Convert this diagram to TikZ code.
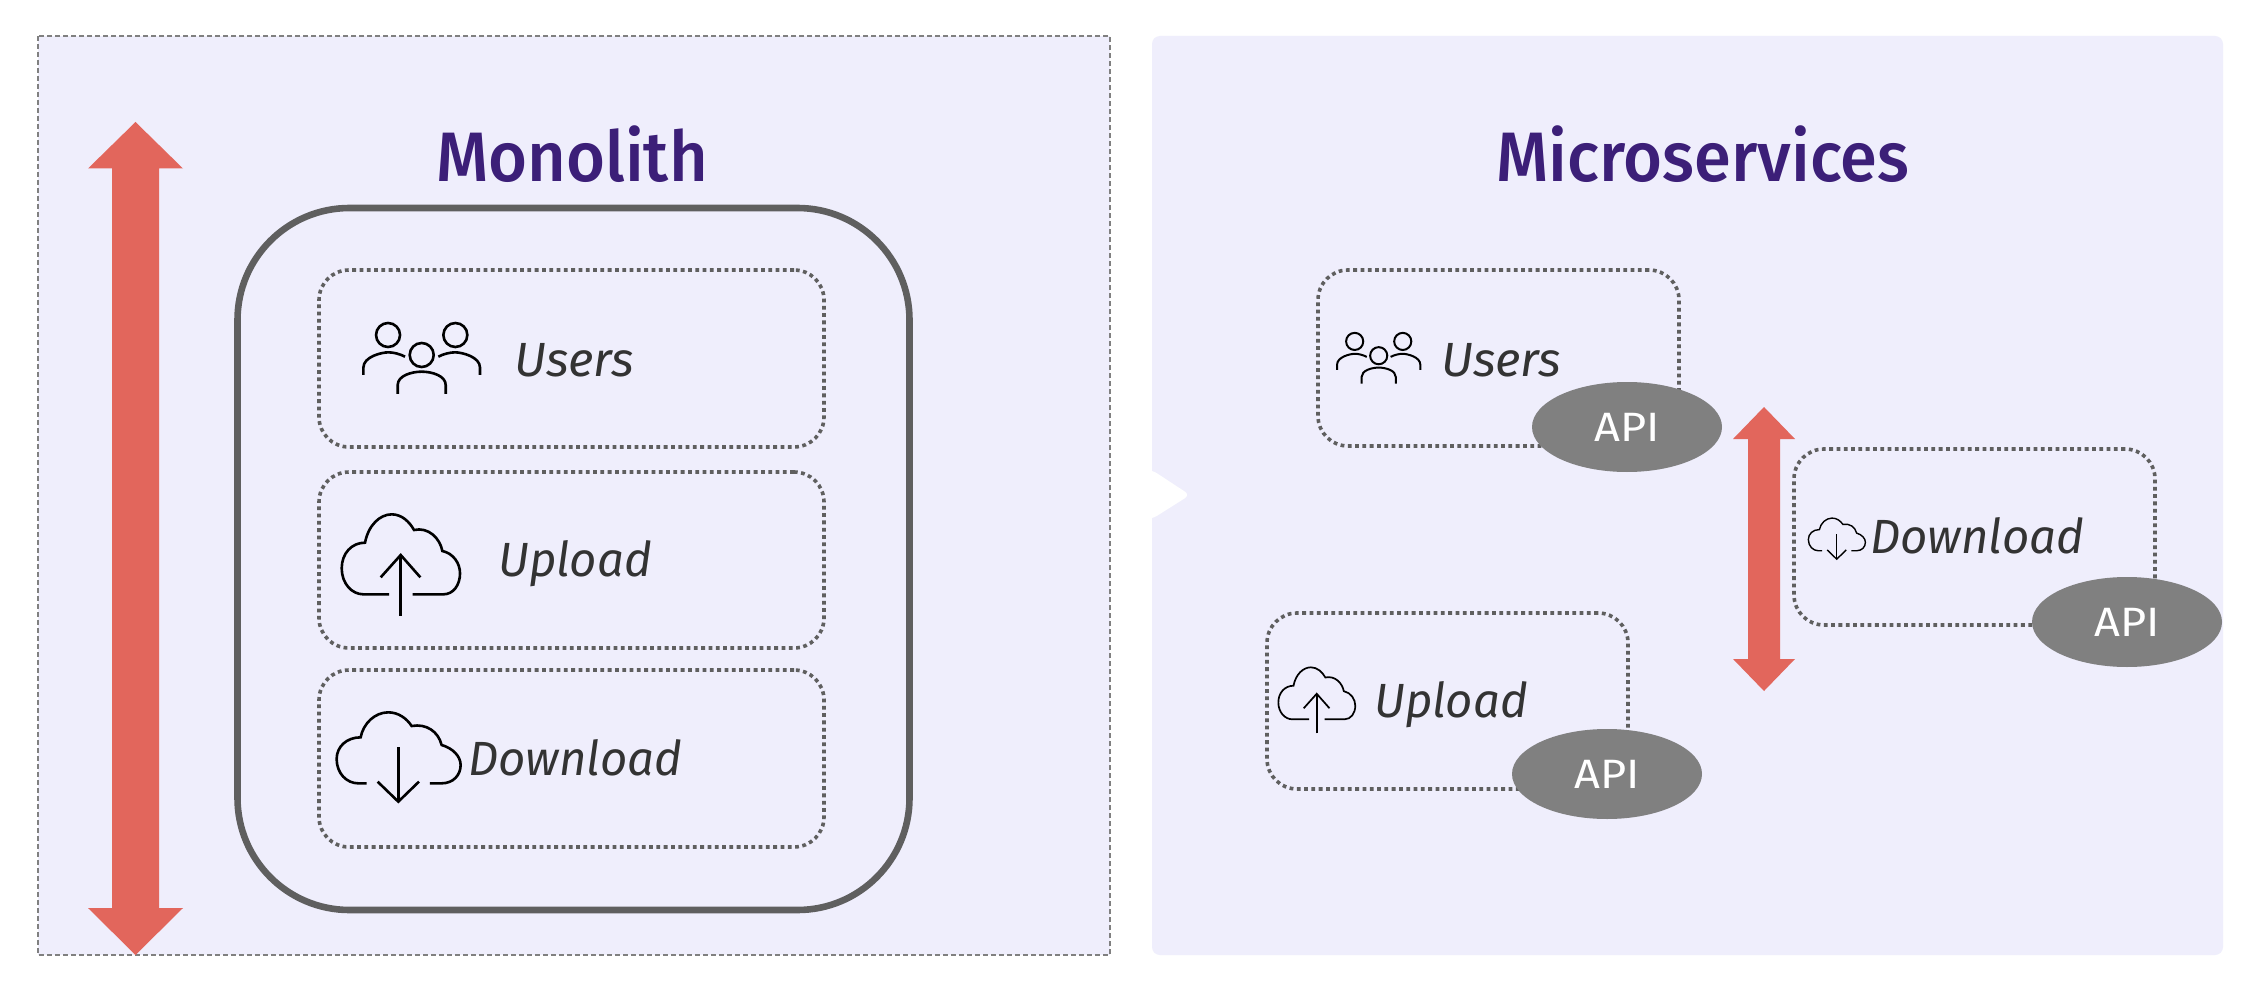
\documentclass[tikz,border=0pt]{standalone}
\usepackage{fontspec}
\setmainfont{Fira Sans}
\newfontfamily\titlefont[FakeStretch=.955]{Fira Sans Medium}
\newfontfamily\labelfont[FakeStretch=.985]{Fira Sans}
\newfontfamily\userfont[FakeStretch=1.02]{Fira Sans}
\newfontfamily\apifont[FakeStretch=1.1]{Fira Sans}
\usetikzlibrary{shapes.geometric}
\definecolor{panelfill}{HTML}{EFEEFC}
\definecolor{titlecol}{HTML}{3C1F78}
\definecolor{redcol}{HTML}{E2665C}
\definecolor{boxline}{HTML}{5F5F5F}
\definecolor{panelline}{HTML}{808080}
\definecolor{txtcol}{HTML}{333333}
\tikzset{
  panelstyle/.style={draw=panelline,line width=2pt,dash pattern=on 5pt off 3pt,fill=panelfill},
  panelplain/.style={fill=panelfill,rounded corners=8pt},
  titletext/.style={anchor=base,inner sep=0pt,text=titlecol,font=\titlefont\fontsize{70}{70}\selectfont},
  labeltext/.style={anchor=base west,inner sep=0pt,text=txtcol,font=\labelfont\itshape\fontsize{48}{48}\selectfont},
  usertext/.style={anchor=base west,inner sep=0pt,text=txtcol,font=\userfont\itshape\fontsize{48}{48}\selectfont},
  svcbox/.style={draw=boxline,line width=3.6pt,dash pattern=on 3.8pt off 3.5pt,rounded corners=30pt,inner sep=0pt,minimum width=#1},
  apinode/.style={ellipse,fill=panelline,text=white,inner sep=0pt,minimum width=190pt,minimum height=90pt,font=\apifont\fontsize{41}{41}\selectfont},
  redarrow/.style={fill=redcol},
  iconline/.style={draw=black,line cap=butt,line join=miter},
  pics/usersicon/.style={code={
    \draw[iconline] (-101,-60) circle (36);
    \draw[iconline] (101,-60) circle (36);
    \draw[iconline] (0,0) circle (36);
    \draw[iconline] (-175,60) -- (-175,38) .. controls (-175,5) and (-120,-8) .. (-100,-8) .. controls (-85,-8) and (-65,-3) .. (-50,5);
    \draw[iconline] (50,5) .. controls (65,-3) and (85,-8) .. (100,-8) .. controls (120,-8) and (175,5) .. (175,38) -- (175,60);
    \draw[iconline] (-72,117) -- (-72,90) .. controls (-72,62) and (-30,50) .. (0,50) .. controls (30,50) and (72,62) .. (72,90) -- (72,117);
  }},
  pics/uploadicon/.style={code={
    \begin{scope}[shift={(-272,-300)}]
    \draw[iconline] (237,373) -- (160,373) .. controls (125,373) and (95,340) .. (95,295) .. controls (95,250) and (125,218) .. (165,218) .. controls (175,165) and (210,133) .. (245,133) .. controls (275,133) and (298,155) .. (312,180) .. controls (355,170) and (390,205) .. (397,243) .. controls (430,250) and (450,280) .. (450,310) .. controls (450,345) and (430,373) .. (400,373) -- (308,373);
    \draw[iconline] (272,438) -- (272,255);
    \draw[iconline] (212,322) -- (272,255) -- (331,322);
    \end{scope}
  }},
  pics/downloadicon/.style={code={
    \begin{scope}[shift={(-265,-300)}]
    \draw[iconline] (170,370) -- (145,370) .. controls (110,370) and (80,340) .. (80,297) .. controls (80,260) and (110,232) .. (152,232) .. controls (160,190) and (195,157) .. (235,157) .. controls (265,157) and (290,175) .. (305,198) .. controls (350,190) and (385,215) .. (395,255) .. controls (430,265) and (452,290) .. (452,315) .. controls (452,345) and (430,370) .. (395,370) -- (360,370);
    \draw[iconline] (265,262) -- (265,425);
    \draw[iconline] (203,365) -- (265,425) -- (327,365);
    \end{scope}
  }}
}
\begin{document}
\begin{tikzpicture}[x=1pt,y=-1pt]
\path[use as bounding box,fill=white] (0,0) rectangle (2254,1000);
% panels
\path[panelstyle] (38,36) rectangle (1110,955);
\path[panelplain] (1152,36) rectangle (2223,955);
\path[fill=white,rounded corners=6pt] (1140,470) -- (1152,470) -- (1190,495) -- (1152,519) -- (1140,519) -- cycle;
% titles
\node[titletext] (montitle) at (572,182) {Monolith};
\node[titletext] (mictitle) at (1703,182) {Microservices};
% left red arrow
\path[redarrow] (135.5,122) -- (183,168.5) -- (159,168.5) -- (159,908) -- (183,908) -- (135.5,955) -- (88,908) -- (112,908) -- (112,168.5) -- (88,168.5) -- cycle;
% monolith box
\node[draw=boxline,line width=6.6pt,rounded corners=112pt,inner sep=0pt,minimum width=672pt,minimum height=702pt] (mono) at (573.5,559) {};
% inner boxes
\node[svcbox=505pt,minimum height=177pt] (busers) at (571.5,358.5) {};
\node[svcbox=505pt,minimum height=176pt] (bupload) at (571.5,560) {};
\node[svcbox=505pt,minimum height=177pt] (bdownload) at (571.5,758.5) {};
\pic[scale=.3333,line width=2.6pt] at (421.7,355) {usersicon};
\pic[scale=.3333,line width=2.6pt] at (400.7,570) {uploadicon};
\pic[scale=.3333,line width=2.6pt] at (398.3,760) {downloadicon};
\node[usertext] (luser) at (514,376) {Users};
\node[labeltext] (lup) at (498,576) {Upload};
\node[labeltext] (ldown) at (468,775) {Download};
% right red arrow
\path[redarrow] (1764,407) -- (1795,439) -- (1780,439) -- (1780,659) -- (1795,659) -- (1764,691) -- (1733,659) -- (1748,659) -- (1748,439) -- (1733,439) -- cycle;
% services
\node[svcbox=361pt,minimum height=176pt] (susers) at (1498.5,358) {};
\node[svcbox=361pt,minimum height=176pt] (sdown) at (1974.5,537) {};
\node[svcbox=361pt,minimum height=176pt] (sup) at (1447.5,701) {};
\pic[scale=.238,line width=2pt] at (1378.7,355.7) {usersicon};
\pic[scale=.2167,line width=1.7pt] at (1316.7,703.5) {uploadicon};
\pic[scale=.1533,line width=1.4pt] at (1836.7,540) {downloadicon};
\node[usertext] (suser) at (1441,376) {Users};
\node[labeltext] (sdl) at (1870,553) {Download};
\node[labeltext] (sul) at (1374,717) {Upload};
\node[apinode] (a1) at (1627,427) {API};
\node[apinode] (a2) at (2127,622) {API};
\node[apinode] (a3) at (1607,774) {API};
\end{tikzpicture}
\end{document}
